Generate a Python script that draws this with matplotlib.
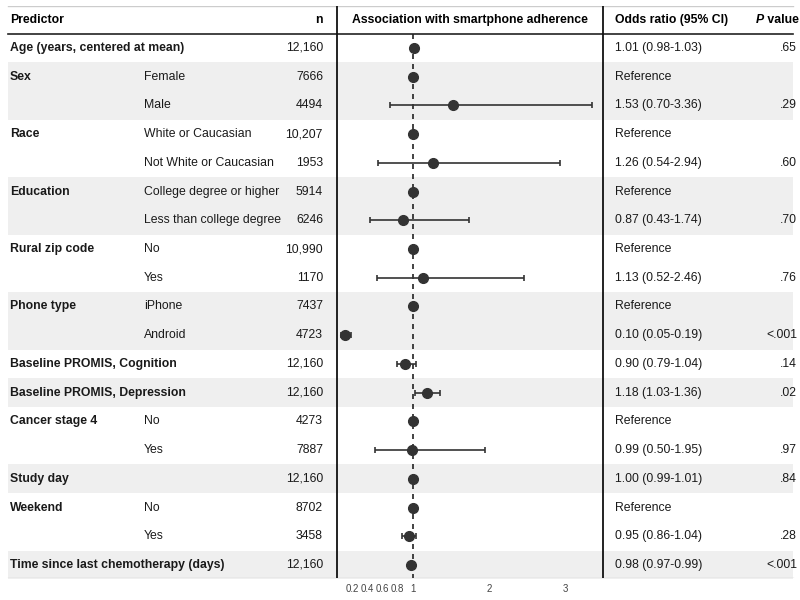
import matplotlib
matplotlib.use("Agg")
import matplotlib.pyplot as plt
import numpy as np

plt.rcParams['font.family'] = ['Liberation Sans', 'DejaVu Sans']

# ---- data ----
predictors = ["Age (years, centered at mean)", "Sex", "", "Race", "", "Education", "",
              "Rural zip code", "", "Phone type", "", "Baseline PROMIS, Cognition",
              "Baseline PROMIS, Depression", "Cancer stage 4", "", "Study day", "Weekend", "",
              "Time since last chemotherapy (days)"]
levels = ["", "Female", "Male", "White or Caucasian", "Not White or Caucasian",
          "College degree or higher", "Less than college degree", "No", "Yes",
          "iPhone", "Android", "", "", "No", "Yes", "", "No", "Yes", ""]
n_vals = ["12,160", "7666", "4494", "10,207", "1953", "5914", "6246", "10,990", "1170",
          "7437", "4723", "12,160", "12,160", "4273", "7887", "12,160", "8702", "3458", "12,160"]
odds = [1.01, 1.00, 1.53, 1.00, 1.26, 1.00, 0.87, 1.00, 1.13, 1.00, 0.10, 0.90, 1.18,
        1.00, 0.99, 1.00, 1.00, 0.95, 0.98]
ci_low = [0.98, None, 0.70, None, 0.54, None, 0.43, None, 0.52, None, 0.05, 0.79, 1.03,
          None, 0.50, 0.99, None, 0.86, 0.97]
ci_high = [1.03, None, 3.36, None, 2.94, None, 1.74, None, 2.46, None, 0.19, 1.04, 1.36,
           None, 1.95, 1.01, None, 1.04, 0.99]
or_text = ["1.01 (0.98-1.03)", "Reference", "1.53 (0.70-3.36)", "Reference", "1.26 (0.54-2.94)",
           "Reference", "0.87 (0.43-1.74)", "Reference", "1.13 (0.52-2.46)", "Reference",
           "0.10 (0.05-0.19)", "0.90 (0.79-1.04)", "1.18 (1.03-1.36)", "Reference",
           "0.99 (0.50-1.95)", "1.00 (0.99-1.01)", "Reference", "0.95 (0.86-1.04)",
           "0.98 (0.97-0.99)"]
p_text = [".65", "", ".29", "", ".60", "", ".70", "", ".76", "", "<.001", ".14", ".02",
          "", ".97", ".84", "", ".28", "<.001"]
group_id = [0, 1, 1, 2, 2, 3, 3, 4, 4, 5, 5, 6, 7, 8, 8, 9, 10, 10, 11]
xticks = [0.2, 0.4, 0.6, 0.8, 1, 2, 3]
xtick_labels = ["0.2", "0.4", "0.6", "0.8", "1", "2", "3"]

# ---- layout ----
W, H = 800, 600
fig = plt.figure(figsize=(8, 6), dpi=100)
top_px, bot_px = 6, 578
row0_px, row_h = 48, 28.72
y_top = (top_px - row0_px) / row_h
y_bot = (bot_px - row0_px) / row_h
ax_b = (H - bot_px) / H
ax_h = (bot_px - top_px) / H

bg = fig.add_axes([0, ax_b, 1, ax_h])
bg.set_xlim(0, W)
bg.set_ylim(y_bot, y_top)
bg.axis('off')

nrows = len(odds)
x_left, x_right = 8, 793
for i in range(nrows):
    if group_id[i] % 2 == 1:
        bg.fill_between([x_left, x_right], i - 0.5, i + 0.5, color='#efefef', lw=0, zorder=0)

hdr_y = -0.975
header_line_y = -0.5
bg.plot([x_left, x_right], [y_top, y_top], color='#cccccc', lw=1, zorder=2)
bg.plot([x_left, x_right], [header_line_y, header_line_y], color='#222222', lw=1.2, zorder=2)
bg.plot([x_left, x_right], [y_bot, y_bot], color='#cccccc', lw=1, zorder=2)
for xv in (337, 603):
    bg.plot([xv, xv], [y_top, y_bot], color='#111111', lw=1.3, zorder=3)

fs = 8.8
fsb = 8.8
tc = '#1a1a1a'
bg.text(10, hdr_y, "Predictor", fontsize=fsb, fontweight='bold', va='center', ha='left', color='black')
bg.text(323, hdr_y, "n", fontsize=fsb, fontweight='bold', va='center', ha='right', color='black')
bg.text(470, hdr_y, "Association with smartphone adherence", fontsize=fsb, fontweight='bold',
        va='center', ha='center', color='black')
bg.text(615, hdr_y, "Odds ratio (95% CI)", fontsize=fsb, fontweight='bold', va='center', ha='left',
        color='black')
tv = bg.text(799, hdr_y, " value", fontsize=fsb, fontweight='bold', va='center', ha='right', color='black')
fig.canvas.draw()
ext = tv.get_window_extent()
x_v = bg.transData.inverted().transform((ext.x0, 0))[0]
bg.text(x_v, hdr_y, "P", fontsize=fsb, fontweight='bold', style='italic', va='center', ha='right',
        color='black')

for i in range(nrows):
    if predictors[i]:
        bg.text(10, i, predictors[i], fontsize=fsb, fontweight='bold', va='center', ha='left', color=tc)
    if levels[i]:
        bg.text(144, i, levels[i], fontsize=fs, va='center', ha='left', color=tc)
    bg.text(323, i, n_vals[i], fontsize=fs, va='center', ha='right', color=tc)
    bg.text(615, i, or_text[i], fontsize=fs, va='center', ha='left', color=tc)
    if p_text[i]:
        bg.text(797, i, p_text[i], fontsize=fs, va='center', ha='right', color=tc)

# ---- forest axes ----
fa = fig.add_axes([337 / W, ax_b, (603 - 337) / W, ax_h])
fa.patch.set_alpha(0)
fa.set_xlim(0, 3.5)
fa.set_ylim(y_bot, y_top)
for s in fa.spines.values():
    s.set_visible(False)
fa.set_yticks([])
fa.set_xticks(xticks)
fa.set_xticklabels(xtick_labels, fontsize=7, color='#444444')
fa.tick_params(axis='x', length=0, pad=4)
fa.plot([1, 1], [header_line_y, y_bot], ls=(0, (3, 3)), color='#222222', lw=1.2, zorder=2)

for i in range(nrows):
    if ci_low[i] is not None:
        fa.errorbar([odds[i]], [i], xerr=[[odds[i] - ci_low[i]], [ci_high[i] - odds[i]]],
                    fmt='none', ecolor='#333333', elinewidth=1.2, capsize=2.5, capthick=1.2, zorder=3)
    fa.plot([odds[i]], [i], 'o', color='#333333', ms=7, zorder=4)

fig.savefig("out.png", dpi=100)
